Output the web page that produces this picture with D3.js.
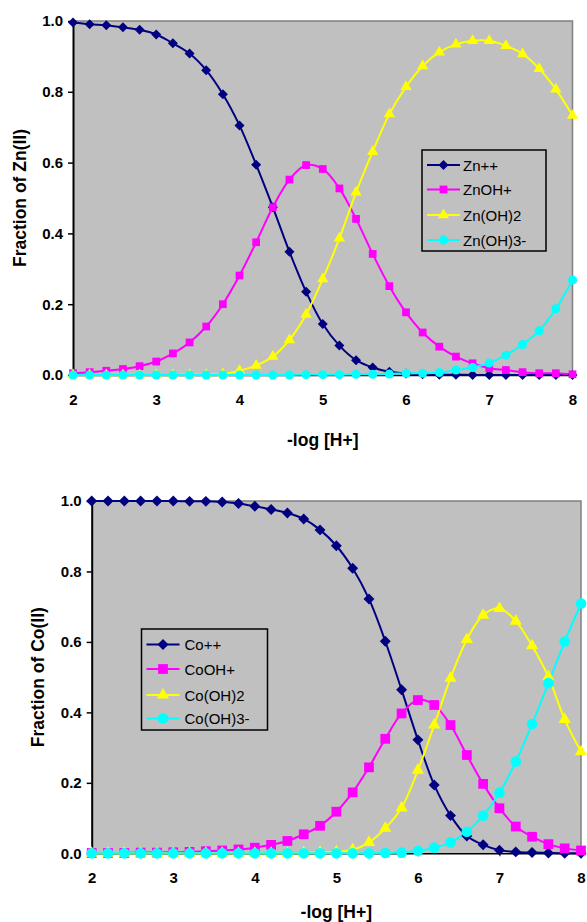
<!DOCTYPE html>
<html>
<head>
<meta charset="utf-8">
<script src="https://cdn.jsdelivr.net/npm/d3@7"></script>
<style>
html,body{margin:0;padding:0;background:#fff;}
svg{display:block;}
text{font-family:"Liberation Sans",Arial,sans-serif;}
</style>
</head>
<body>
<svg id="chart" width="587" height="922"></svg>
<script>
const pH = [2.0,2.2,2.4,2.6,2.8,3.0,3.2,3.4,3.6,3.8,4.0,4.2,4.4,4.6,4.8,5.0,5.2,5.4,5.6,5.8,6.0,6.2,6.4,6.6,6.8,7.0,7.2,7.4,7.6,7.8,8.0];
const xTicks = [2,3,4,5,6,7,8];
const yTicks = [0,0.2,0.4,0.6,0.8,1.0];

const zn = [0.996,0.991,0.988,0.982,0.975,0.962,0.937,0.908,0.861,0.793,0.705,0.594,0.474,0.348,0.235,0.144,0.083,0.042,0.021,0.009,0.004,0.002,0.001,0.001,0.0,0.0,0.0,0.0,0.0,0.0,0.0];
const znOH = [0.005,0.008,0.012,0.017,0.025,0.038,0.061,0.092,0.137,0.200,0.281,0.375,0.474,0.552,0.593,0.582,0.527,0.441,0.342,0.251,0.177,0.120,0.080,0.052,0.033,0.019,0.014,0.008,0.005,0.005,0.002];
const znOH2 = [0.0,0.0,0.0,0.0,0.0,0.0,0.0,0.001,0.001,0.003,0.012,0.027,0.052,0.099,0.171,0.271,0.386,0.516,0.631,0.737,0.814,0.873,0.912,0.934,0.944,0.944,0.930,0.907,0.865,0.807,0.733];
const znOH3 = [0.0,0.0,0.0,0.0,0.0,0.0,0.0,0.0,0.0,0.0,0.0,0.0,0.0,0.0,0.001,0.001,0.001,0.002,0.002,0.003,0.005,0.005,0.007,0.014,0.021,0.034,0.056,0.086,0.125,0.187,0.268];

const co = [1.0,1.0,1.0,1.0,1.0,1.0,0.999,0.999,0.997,0.993,0.985,0.976,0.966,0.949,0.918,0.873,0.809,0.722,0.602,0.464,0.322,0.194,0.107,0.049,0.024,0.009,0.004,0.002,0.001,0.0,0.0];
const coOH = [0.001,0.001,0.001,0.002,0.002,0.003,0.004,0.006,0.008,0.011,0.016,0.024,0.035,0.054,0.078,0.118,0.173,0.244,0.325,0.397,0.435,0.421,0.364,0.279,0.197,0.128,0.076,0.047,0.026,0.014,0.008];
const coOH2 = [0.0,0.0,0.0,0.0,0.0,0.0,0.0,0.0,0.0,0.0,0.0,0.0,0.0,0.001,0.002,0.004,0.010,0.031,0.071,0.129,0.236,0.364,0.497,0.607,0.676,0.695,0.659,0.589,0.501,0.380,0.288];
const coOH3 = [0.0,0.0,0.0,0.0,0.0,0.0,0.0,0.0,0.0,0.0,0.0,0.0,0.0,0.0,0.0,0.0,0.0,0.0,0.001,0.002,0.007,0.016,0.031,0.061,0.107,0.172,0.260,0.367,0.483,0.601,0.709];

const znNames = ["Zn++","ZnOH+","Zn(OH)2","Zn(OH)3-"];
const coNames = ["Co++","CoOH+","Co(OH)2","Co(OH)3-"];
const colors = ["#000080","#FF00FF","#FFFF00","#00FFFF"];

const squareDiamond = {draw(ctx,size){const r=Math.sqrt(size/2);
  ctx.moveTo(0,-r);ctx.lineTo(r,0);ctx.lineTo(0,r);ctx.lineTo(-r,0);ctx.closePath();}};
const shapes = [squareDiamond, d3.symbolSquare, d3.symbolTriangle, d3.symbolCircle];

const svg = d3.select("#chart");
const FONT = "'Liberation Sans',Arial,sans-serif";

function drawChart(cfg){
  const {left,right,top,bottom,series,names,ylabel,ylabelX,legend,xTitleY,sizes} = cfg;
  const g = svg.append("g");
  const x = d3.scaleLinear().domain([2,8]).range([left,right]);
  const y = d3.scaleLinear().domain([0,1]).range([bottom,top]);

  g.append("rect").attr("x",left).attr("y",top).attr("width",right-left).attr("height",bottom-top)
    .attr("fill","#C0C0C0");
  g.append("path").attr("d",`M${left},${top}H${right}V${bottom}`).attr("fill","none")
    .attr("stroke","#808080").attr("stroke-width",1.5);

  const yAxis = d3.axisLeft(y).tickValues(yTicks).tickFormat(d3.format(".1f")).tickSize(5).tickSizeOuter(0);
  const ya = g.append("g").attr("transform",`translate(${left},0)`).call(yAxis);
  ya.select(".domain").attr("stroke","#000").attr("stroke-width",2);
  ya.selectAll(".tick line").attr("stroke","#000").attr("stroke-width",1.5);
  ya.selectAll("text").attr("font-size",15).attr("font-weight","bold").attr("fill","#000")
    .attr("x",-10).attr("font-family",FONT);

  const xAxis = d3.axisBottom(x).tickValues(xTicks).tickFormat(d3.format("d")).tickSize(3).tickSizeOuter(0);
  const xa = g.append("g").attr("transform",`translate(0,${bottom})`).call(xAxis);
  xa.select(".domain").attr("stroke","#000").attr("stroke-width",1.5);
  xa.selectAll(".tick line").attr("stroke","#000");
  xa.selectAll("text").attr("font-size",15).attr("font-weight","bold").attr("fill","#000")
    .attr("y",19.5).attr("font-family",FONT);

  const line = d3.line().x((d,i)=>x(pH[i])).y(d=>y(d)).curve(d3.curveCatmullRom.alpha(0.5));
  series.forEach((s,k)=>{
    g.append("path").datum(s).attr("d",line).attr("fill","none")
      .attr("stroke",colors[k]).attr("stroke-width",2);
  });
  series.forEach((s,k)=>{
    g.append("g").selectAll("path").data(s).join("path")
      .attr("d",d3.symbol().type(shapes[k]).size(sizes[k]))
      .attr("transform",(d,i)=>`translate(${x(pH[i])},${y(d)})`)
      .attr("fill",colors[k]);
  });

  g.append("text").attr("transform",`translate(${ylabelX},${(top+bottom)/2}) rotate(-90)`)
    .attr("text-anchor","middle").attr("dominant-baseline","central")
    .attr("font-size",17.5).attr("font-weight","bold").text(ylabel);
  g.append("text").attr("x",(left+right)/2).attr("y",xTitleY)
    .attr("text-anchor","middle").attr("dominant-baseline","central")
    .attr("font-size",17.5).attr("font-weight","bold").text("-log [H+]");

  const lg = g.append("g").attr("transform",`translate(${legend.x},${legend.y})`);
  lg.append("rect").attr("width",legend.w).attr("height",legend.h).attr("fill","#C0C0C0")
    .attr("stroke","#000").attr("stroke-width",1.5);
  names.forEach((n,k)=>{
    const cy = legend.rows[k];
    lg.append("line").attr("x1",5).attr("x2",38).attr("y1",cy).attr("y2",cy)
      .attr("stroke",colors[k]).attr("stroke-width",2);
    lg.append("path").attr("d",d3.symbol().type(shapes[k]).size(sizes[k]))
      .attr("transform",`translate(21.5,${cy})`).attr("fill",colors[k]);
    lg.append("text").attr("x",legend.tx).attr("y",cy).attr("dominant-baseline","central")
      .attr("font-size",15).attr("fill","#000").text(n);
  });
}

drawChart({left:73,right:572.5,top:21,bottom:375,
  series:[zn,znOH,znOH2,znOH3],names:znNames,ylabel:"Fraction of Zn(II)",ylabelX:20,
  xTitleY:440,sizes:[50,60,55,64],
  legend:{x:422,y:150,w:124,h:101,tx:41,rows:[15,39.5,65,90]}});

drawChart({left:91.7,right:581,top:501,bottom:853.3,
  series:[co,coOH,coOH2,coOH3],names:coNames,ylabel:"Fraction of Co(II)",ylabelX:38,
  xTitleY:912,sizes:[60,95,65,90],
  legend:{x:141.5,y:629,w:126,h:101,tx:43,rows:[15.5,40,66,89.5]}});
</script>
</body>
</html>
